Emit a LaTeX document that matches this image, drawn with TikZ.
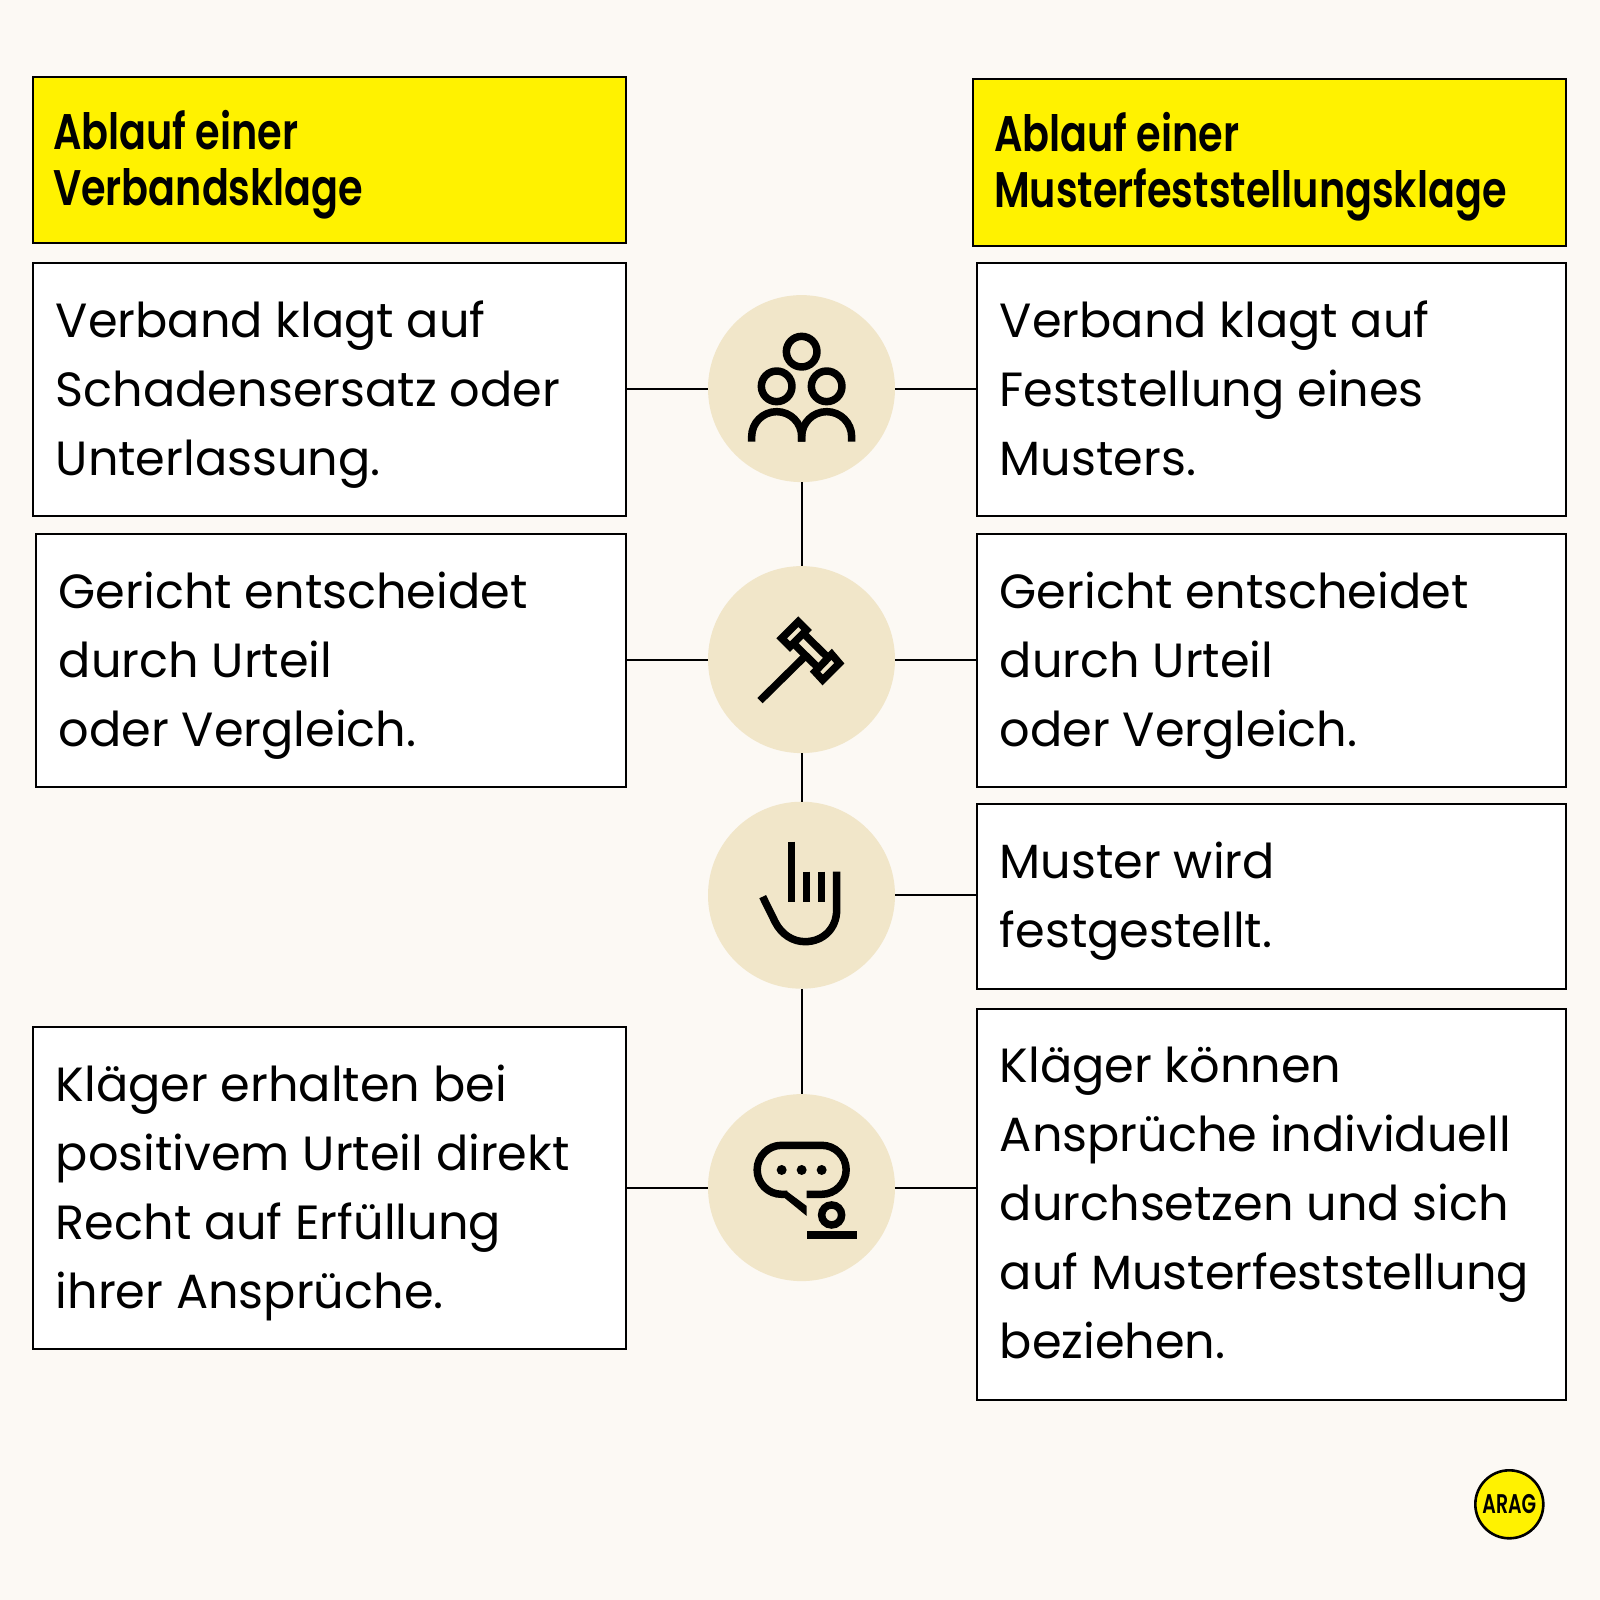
\documentclass[tikz,border=0pt]{standalone}
\usepackage{fontspec}
\setmainfont{Poppins}
\newfontfamily\bodyfont[FakeStretch=0.995]{Poppins}
\newfontfamily\headfont[FakeStretch=0.795]{Poppins SemiBold}
\newfontfamily\logofont[FakeStretch=0.70]{Poppins SemiBold}
\definecolor{bgc}{HTML}{FCF9F4}
\definecolor{tan}{HTML}{F1E6C9}
\definecolor{yel}{HTML}{FFF200}
\tikzset{
 textbox/.style={draw=black,line width=1.6pt,fill=white,anchor=north west,inner xsep=0pt,inner ysep=0pt,align=left,
   font=\bodyfont\fontsize{48}{69}\selectfont},
 headbox/.style={draw=black,line width=2pt,fill=yel,anchor=north west,inner xsep=0pt,inner ysep=0pt,align=left,
   font=\headfont\fontsize{50}{56}\selectfont},
 disc/.style={circle,fill=tan,minimum size=187pt,inner sep=0pt},
 link/.style={line width=2pt,draw=black},
 ico/.style={line width=7.5pt,draw=black},
 icon/.style={x=0.3333pt,y=-0.3333pt}
}
\newcommand{\tbox}[7]{% name,x0,y0,x1,y1,pad,text
 \pgfmathsetlengthmacro{\wid}{(#4-#2)*1pt}\pgfmathsetlengthmacro{\hei}{(#5-#3)*1pt}
 \pgfmathsetlengthmacro{\txw}{(#4-#2-#6)*1pt}
 \node[textbox,minimum width=\wid,minimum height=\hei] (#1) at (#2,#3) {\hspace*{#6pt}\parbox{\txw}{\raggedright\vspace*{10pt}\vphantom{Ag}#7\vphantom{Ag}}};}
\begin{document}
\begin{tikzpicture}[x=1pt,y=-1pt]
\useasboundingbox (0,0) rectangle (1600,1600);
\fill[bgc] (0,0) rectangle (1600,1600);
% header boxes
\node[headbox,minimum width=593pt,minimum height=166pt] (hl) at (32,76) {\hspace*{20pt}\parbox{573pt}{\vspace*{10pt}\vphantom{Ag}Ablauf einer\\Verbandsklage\vphantom{Ag}}};
\node[headbox,minimum width=593pt,minimum height=167pt] (hr) at (972,78) {\hspace*{21pt}\parbox{572pt}{\vspace*{8pt}\vphantom{Ag}Ablauf einer\\Musterfeststellungsklage\vphantom{Ag}}};
% text boxes
\tbox{bla}{32}{262}{625}{515}{23}{Verband klagt auf\\Schadensersatz oder\\Unterlassung.}
\tbox{blb}{35}{533}{625}{786}{23}{Gericht entscheidet\\durch Urteil\\oder Vergleich.}
\tbox{bld}{32}{1026}{625}{1348}{23}{Kläger erhalten bei\\positivem Urteil direkt\\Recht auf Erfüllung\\ihrer Ansprüche.}
\tbox{bra}{976}{262}{1565}{515}{23}{Verband klagt auf\\Feststellung eines\\Musters.}
\tbox{brb}{976}{533}{1565}{786}{23}{Gericht entscheidet\\durch Urteil\\oder Vergleich.}
\tbox{brc}{976}{803}{1565}{988}{23}{Muster wird\\festgestellt.}
\tbox{brd}{976}{1008}{1565}{1399}{23}{Kläger können\\Ansprüche individuell\\durchsetzen und sich\\auf Musterfeststellung\\beziehen.}
% discs
\node[disc] (ca) at (801.5,388.6) {};
\node[disc] (cb) at (801.5,659.6) {};
\node[disc] (cc) at (801.5,895.2) {};
\node[disc] (cd) at (801.5,1187.6) {};
% connectors
\draw[link] (ca.south) -- (cb.north);
\draw[link] (cb.south) -- (cc.north);
\draw[link] (cc.south) -- (cd.north);
\draw[link] (ca.west) -- (ca.west -| bla.east);
\draw[link] (ca.east) -- (ca.east -| bra.west);
\draw[link] (cb.west) -- (cb.west -| blb.east);
\draw[link] (cb.east) -- (cb.east -| brb.west);
\draw[link] (cc.east) -- (cc.east -| brc.west);
\draw[link] (cd.west) -- (cd.west -| bld.east);
\draw[link] (cd.east) -- (cd.east -| brd.west);
% icon people
\begin{scope}[shift={(700,290)},icon]
 \draw[ico] (305,185) circle[radius=15.3pt];
 \draw[ico] (230,289) circle[radius=15.3pt];
 \draw[ico] (380,289) circle[radius=15.3pt];
 \draw[ico] (155,455) -- (155,440) arc[start angle=180,end angle=0,radius=25pt] -- (305,455);
 \draw[ico] (305,455) -- (305,440) arc[start angle=180,end angle=0,radius=25pt] -- (455,455);
\end{scope}
% icon gavel
\begin{scope}[shift={(700,290)},icon]
 \draw[ico,miter limit=4] (295,995) -- (320,1020) -- (270,1070) -- (245,1045) -- cycle;
 \draw[ico] (395,1093) -- (418,1120) -- (368,1170) -- (345,1145) -- cycle;
 \draw[ico] (310,1030) -- (385,1104);
 \draw[ico] (280,1060) -- (355,1134);
 \draw[ico] (180,1232) -- (317,1097);
\end{scope}
% icon hand
\begin{scope}[shift={(700,800)},icon]
 \draw[ico] (275,125) -- (275,305);
 \draw[ico] (320,215) -- (320,305);
 \draw[ico] (365,215) -- (365,305);
 \draw[ico] (188,290) -- (225,365) .. controls (245,405) and (280,425) .. (315,425) .. controls (370,425) and (410,385) .. (410,330) -- (410,215);
\end{scope}
% icon speech
\begin{scope}[shift={(700,800)},icon]
 \draw[ico] (320,1183) -- (365,1183) arc[start angle=-90,end angle=90,radius=24.5pt] -- (245,1036) arc[start angle=90,end angle=270,radius=24.5pt] -- (262,1183);
 \fill[black] (258,1172) -- (320,1218) -- (320,1248) -- (255,1195) -- cycle;
 \fill[black] (245,1110) circle[radius=5pt] (305,1110) circle[radius=5pt] (365,1110) circle[radius=5pt];
 \draw[ico] (395,1245) circle[radius=10pt];
 \fill[black] (320,1293) rectangle (470,1316);
\end{scope}
% logo
\node[circle,draw=black,line width=2.6pt,fill=yel,minimum size=68pt,inner sep=0pt,font=\logofont\fontsize{27}{27}\selectfont] (logo) at (1509.3,1504.3) {ARAG};
\end{tikzpicture}
\end{document}
